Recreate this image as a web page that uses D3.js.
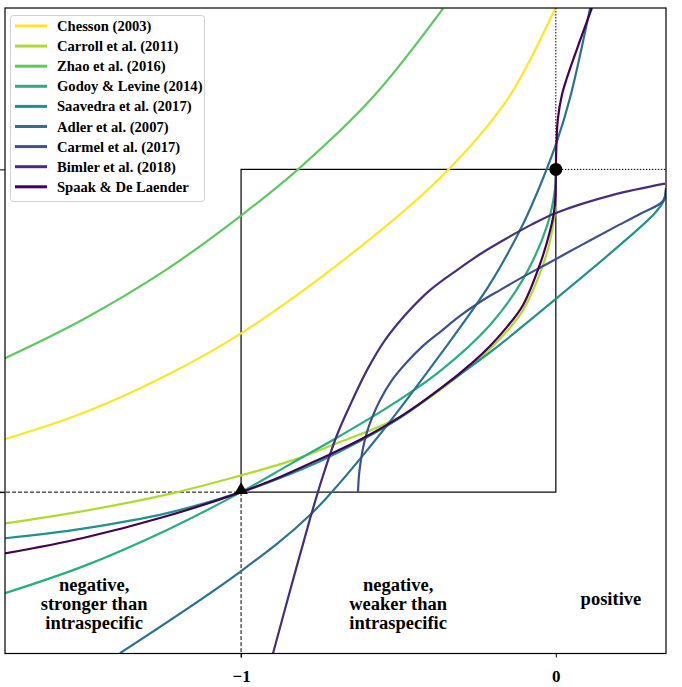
<!DOCTYPE html>
<html>
<head>
<meta charset="utf-8">
<script src="https://cdn.jsdelivr.net/npm/d3@7"></script>
<style>
  html, body { margin: 0; padding: 0; background: #fff; }
  svg { display: block; }
  text { font-family: "Liberation Serif", "Times New Roman", serif; font-weight: bold; }
</style>
</head>
<body>
<svg id="chart" width="682" height="687"></svg>
<script>
// ---------------- data ----------------
const seriesNames = ["Chesson (2003)", "Carroll et al. (2011)", "Zhao et al. (2016)",
  "Godoy & Levine (2014)", "Saavedra et al. (2017)", "Adler et al. (2007)",
  "Carmel et al. (2017)", "Bimler et al. (2018)", "Spaak & De Laender"];

const chessonX = [-1.75, -1.502, -1.235, -1.0, -0.686, -0.368, -0.155, -0.003];
const chessonY = [0.164, 0.245, 0.363, 0.492, 0.710, 0.973, 1.215, 1.497];

const carrollX = [-1.75, -1.502, -1.216, -1.0, -0.845, -0.686, -0.495, -0.368, -0.263, -0.209, -0.155, -0.104, -0.050, -0.0185, 0.0];
const carrollY = [-0.097, -0.059, -0.003, 0.052, 0.096, 0.155, 0.233, 0.316, 0.397, 0.444, 0.499, 0.564, 0.679, 0.778, 0.887];

const zhaoX = [-1.75, -1.502, -1.235, -1.0, -0.819, -0.581, -0.358];
const zhaoY = [0.415, 0.535, 0.691, 0.857, 1.0, 1.224, 1.499];

const godoyX = [-1.75, -1.502, -1.235, -1.0, -0.845, -0.686, -0.527, -0.368, -0.209, -0.104, -0.028, -0.0026, 0.0];
const godoyY = [-0.313, -0.230, -0.117, 0.0, 0.086, 0.174, 0.267, 0.375, 0.518, 0.660, 0.825, 0.939, 1.0];

const saavedraX = [-1.75, -1.502, -1.235, -1.0, -0.876, -0.749, -0.622, -0.495, -0.368, -0.200, 0.004, 0.204, 0.315, 0.344, 0.3497];
const saavedraY = [-0.143, -0.113, -0.065, 0.0, 0.044, 0.096, 0.158, 0.230, 0.320, 0.440, 0.602, 0.766, 0.865, 0.905, 0.936];

const adlerX = [-1.385, -1.003, -0.781, -0.581, -0.368, -0.209, -0.104, -0.044, 0.004, 0.045, 0.109];
const adlerY = [-0.499, -0.247, -0.071, 0.152, 0.425, 0.645, 0.831, 0.964, 1.088, 1.221, 1.5];

const carmelX = [-0.6285, -0.6253, -0.619, -0.6126, -0.600, -0.584, -0.5586, -0.5205, -0.4728, -0.422, -0.368, -0.3044, -0.2409, -0.1774, -0.1043, -0.0281, 0.0768, 0.1816, 0.2674, 0.3405, 0.3497];
const carmelY = [0.0, 0.053, 0.100, 0.137, 0.186, 0.230, 0.285, 0.347, 0.403, 0.453, 0.496, 0.546, 0.589, 0.626, 0.667, 0.707, 0.763, 0.818, 0.862, 0.902, 0.942];

const bimlerX = [-0.8986, -0.835, -0.781, -0.7429, -0.6952, -0.6476, -0.5999, -0.5427, -0.4728, -0.3997, -0.314, -0.2346, -0.1551, -0.0789, 0.0004, 0.1815, 0.3468];
const bimlerY = [-0.5, -0.272, -0.083, 0.041, 0.177, 0.282, 0.378, 0.471, 0.555, 0.626, 0.688, 0.741, 0.787, 0.828, 0.865, 0.921, 0.956];

const spaakX = [-1.75, -1.502, -1.235, -1.0, -0.876, -0.749, -0.622, -0.495, -0.368, -0.263, -0.209, -0.155, -0.104, -0.050, -0.0185, -0.0058, -0.0011, 0.0, 0.0019, 0.0064, 0.0191, 0.035, 0.0763, 0.1144];
const spaakY = [-0.190, -0.142, -0.074, 0.0, 0.047, 0.103, 0.162, 0.233, 0.320, 0.403, 0.453, 0.512, 0.580, 0.707, 0.809, 0.868, 0.921, 1.0, 1.076, 1.156, 1.230, 1.283, 1.398, 1.5];

const seriesX = [chessonX, carrollX, zhaoX, godoyX, saavedraX, adlerX, carmelX, bimlerX, spaakX];
const seriesY = [chessonY, carrollY, zhaoY, godoyY, saavedraY, adlerY, carmelY, bimlerY, spaakY];

const xTicks = [-1, 0];
const xTickLabels = ["\u22121", "0"];
const yTicks = [0, 1];

const regionLabels = [
  ["negative,", "stronger than", "intraspecific"],
  ["negative,", "weaker than", "intraspecific"],
  ["positive"]
];
const regionX = [-1.467, -0.501, 0.175];

// ---------------- drawing ----------------
const svg = d3.select("#chart");
const x = d3.scaleLinear().domain([-1.75, 0.35]).range([5, 666]);
const y = d3.scaleLinear().domain([-0.5, 1.5]).range([653.5, 8]);
const colors = d3.quantize(d3.interpolateViridis, 9).reverse();

svg.append("defs").append("clipPath").attr("id", "clip")
  .append("rect").attr("x", 5).attr("y", 8).attr("width", 661).attr("height", 645.5);

// reference lines
const ref = svg.append("g").attr("stroke", "#000").attr("fill", "none");
ref.append("line").attr("x1", 0).attr("x2", x(-1)).attr("y1", y(0)).attr("y2", y(0))
  .attr("stroke-width", 1).attr("stroke-dasharray", "4,2");
ref.append("line").attr("x1", x(-1)).attr("x2", x(-1)).attr("y1", y(0)).attr("y2", 657.5)
  .attr("stroke-width", 1).attr("stroke-dasharray", "4,2");
ref.append("line").attr("x1", x(0)).attr("x2", x(0)).attr("y1", y(1.5)).attr("y2", y(1))
  .attr("stroke-width", 1).attr("stroke-dasharray", "1.5,1.5");
ref.append("line").attr("x1", x(0)).attr("x2", x(0.35)).attr("y1", y(1)).attr("y2", y(1))
  .attr("stroke-width", 1).attr("stroke-dasharray", "1.5,1.5");
ref.append("rect").attr("x", x(-1)).attr("y", y(1)).attr("width", x(0) - x(-1)).attr("height", y(0) - y(1))
  .attr("stroke-width", 1.2);

// curves
const line = d3.line().x(d => x(d[0])).y(d => y(d[1])).curve(d3.curveCatmullRom.alpha(0.5));
const curves = svg.append("g").attr("clip-path", "url(#clip)");
seriesNames.forEach((name, i) => {
  const pts = seriesX[i].map((v, j) => [v, seriesY[i][j]]);
  curves.append("path").datum(pts).attr("d", line)
    .attr("fill", "none").attr("stroke", colors[i]).attr("stroke-width", 2.2);
});

// markers
svg.append("path").attr("d", d3.symbol(d3.symbolTriangle, 80)())
  .attr("transform", `translate(${x(-1)},${y(0) - 2})`).attr("fill", "#000");
svg.append("circle").attr("cx", x(0)).attr("cy", y(1)).attr("r", 6.5).attr("fill", "#000");

// frame
svg.append("rect").attr("x", 5).attr("y", 8).attr("width", 661).attr("height", 645.5)
  .attr("fill", "none").attr("stroke", "#000").attr("stroke-width", 1.2);

// axes
const xAxis = svg.append("g").attr("transform", `translate(0,${653.5})`)
  .call(d3.axisBottom(x).tickValues(xTicks).tickSize(4).tickSizeOuter(0)
    .tickFormat((d, i) => xTickLabels[i]));
xAxis.select(".domain").remove();
xAxis.selectAll("line").attr("stroke", "#000");
xAxis.selectAll("text").attr("font-size", 17).attr("font-family", "Liberation Serif")
  .attr("font-weight", "bold").attr("fill", "#000").attr("dy", "0.71em").attr("y", 16);

const yAxis = svg.append("g").attr("transform", `translate(5,0)`)
  .call(d3.axisLeft(y).tickValues(yTicks).tickSize(5).tickSizeOuter(0).tickFormat(""));
yAxis.select(".domain").remove();
yAxis.selectAll("line").attr("stroke", "#000");

// region labels
regionLabels.forEach((lines, i) => {
  const t = svg.append("text").attr("text-anchor", "middle").attr("font-size", 18.5).attr("fill", "#000");
  const y0 = lines.length === 1 ? 605 : 591;
  lines.forEach((s, j) => {
    t.append("tspan").attr("x", x(regionX[i])).attr("y", y0 + j * 18.8).text(s);
  });
});

// legend
const lg = svg.append("g");
lg.append("rect").attr("x", 10.5).attr("y", 15.5).attr("width", 194).attr("height", 186)
  .attr("rx", 3).attr("fill", "#fff").attr("fill-opacity", 0.85).attr("stroke", "#d0d0d0");
seriesNames.forEach((name, i) => {
  const yy = 26 + i * 20.1;
  lg.append("line").attr("x1", 15).attr("x2", 47).attr("y1", yy).attr("y2", yy)
    .attr("stroke", colors[i]).attr("stroke-width", 3);
  lg.append("text").attr("x", 57).attr("y", yy + 5).attr("font-size", 14.6)
    .attr("fill", "#000").text(name);
});
</script>
</body>
</html>
